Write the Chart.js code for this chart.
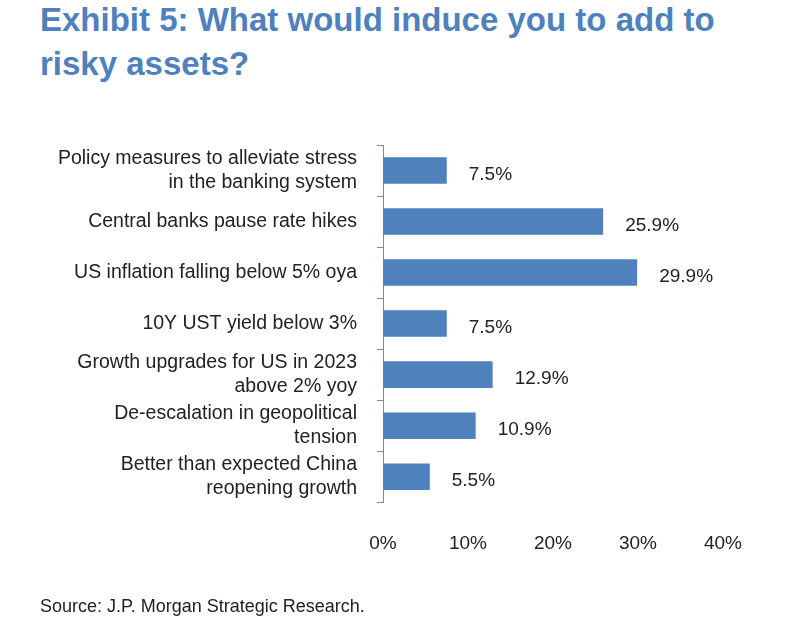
<!DOCTYPE html>
<html><head><meta charset="utf-8">
<script src="https://cdn.jsdelivr.net/npm/chart.js@4"></script>
<style>
body{margin:0;background:#fff;font-family:"Liberation Sans",Arial,sans-serif;}
#wrap{position:relative;width:804px;height:629px;}
#title{position:absolute;left:40px;top:-2px;color:#4f81bd;font-weight:bold;font-size:33px;line-height:44px;white-space:nowrap;}
#src{position:absolute;left:40px;top:596px;font-size:18px;color:#222;}
canvas{position:absolute;left:0;top:0;}
</style></head><body>
<div id="wrap">
<div id="title">Exhibit 5: What would induce you to add to<br>risky assets?</div>
<canvas id="c" width="804" height="629"></canvas>
<div id="src">Source: J.P. Morgan Strategic Research.</div>
</div>
<script>
// Survey answers
const categories = [
  ['Policy measures to alleviate stress', 'in the banking system'],
  'Central banks pause rate hikes',
  'US inflation falling below 5% oya',
  '10Y UST yield below 3%',
  ['Growth upgrades for US in 2023', 'above 2% yoy'],
  ['De-escalation in geopolitical', 'tension'],
  ['Better than expected China', 'reopening growth']
];
const shares = [7.5, 25.9, 29.9, 7.5, 12.9, 10.9, 5.5];
const xTicks = [0, 10, 20, 30, 40];
const FONT = '"Liberation Sans", Arial, sans-serif';

const valueLabels = {
  id: 'valueLabels',
  afterDatasetsDraw(chart) {
    const ctx = chart.ctx;
    ctx.save();
    ctx.font = '19px ' + FONT;
    ctx.fillStyle = '#222';
    ctx.textBaseline = 'middle';
    chart.getDatasetMeta(0).data.forEach((bar, i) => {
      ctx.fillText(shares[i].toFixed(1) + '%', bar.x + 22, bar.y + 4);
    });
    ctx.restore();
  }
};

new Chart(document.getElementById('c'), {
  type: 'bar',
  data: {
    labels: categories,
    datasets: [{ data: shares, backgroundColor: '#4f81bd', barPercentage: 0.52, categoryPercentage: 1 }]
  },
  options: {
    indexAxis: 'y',
    responsive: false,
    animation: false,
    layout: { padding: { top: 145, bottom: 52, right: 81, left: 0 } },
    plugins: { legend: { display: false }, tooltip: { enabled: false } },
    scales: {
      x: {
        min: 0, max: 40,
        afterBuildTicks: s => { s.ticks = xTicks.map(v => ({ value: v })); },
        grid: { display: false },
        border: { display: false },
        ticks: { color: '#222', font: { size: 19, family: FONT }, padding: 22, callback: v => v + '%' }
      },
      y: {
        afterFit: s => { s.width = 383; },
        grid: { display: true, drawOnChartArea: false, offset: true, tickLength: 6, color: '#888' },
        border: { display: true, color: '#888' },
        ticks: { color: '#222', font: { size: 19.5, family: FONT, lineHeight: 1.2 }, padding: 20 }
      }
    }
  },
  plugins: [valueLabels]
});
</script>
</body></html>
